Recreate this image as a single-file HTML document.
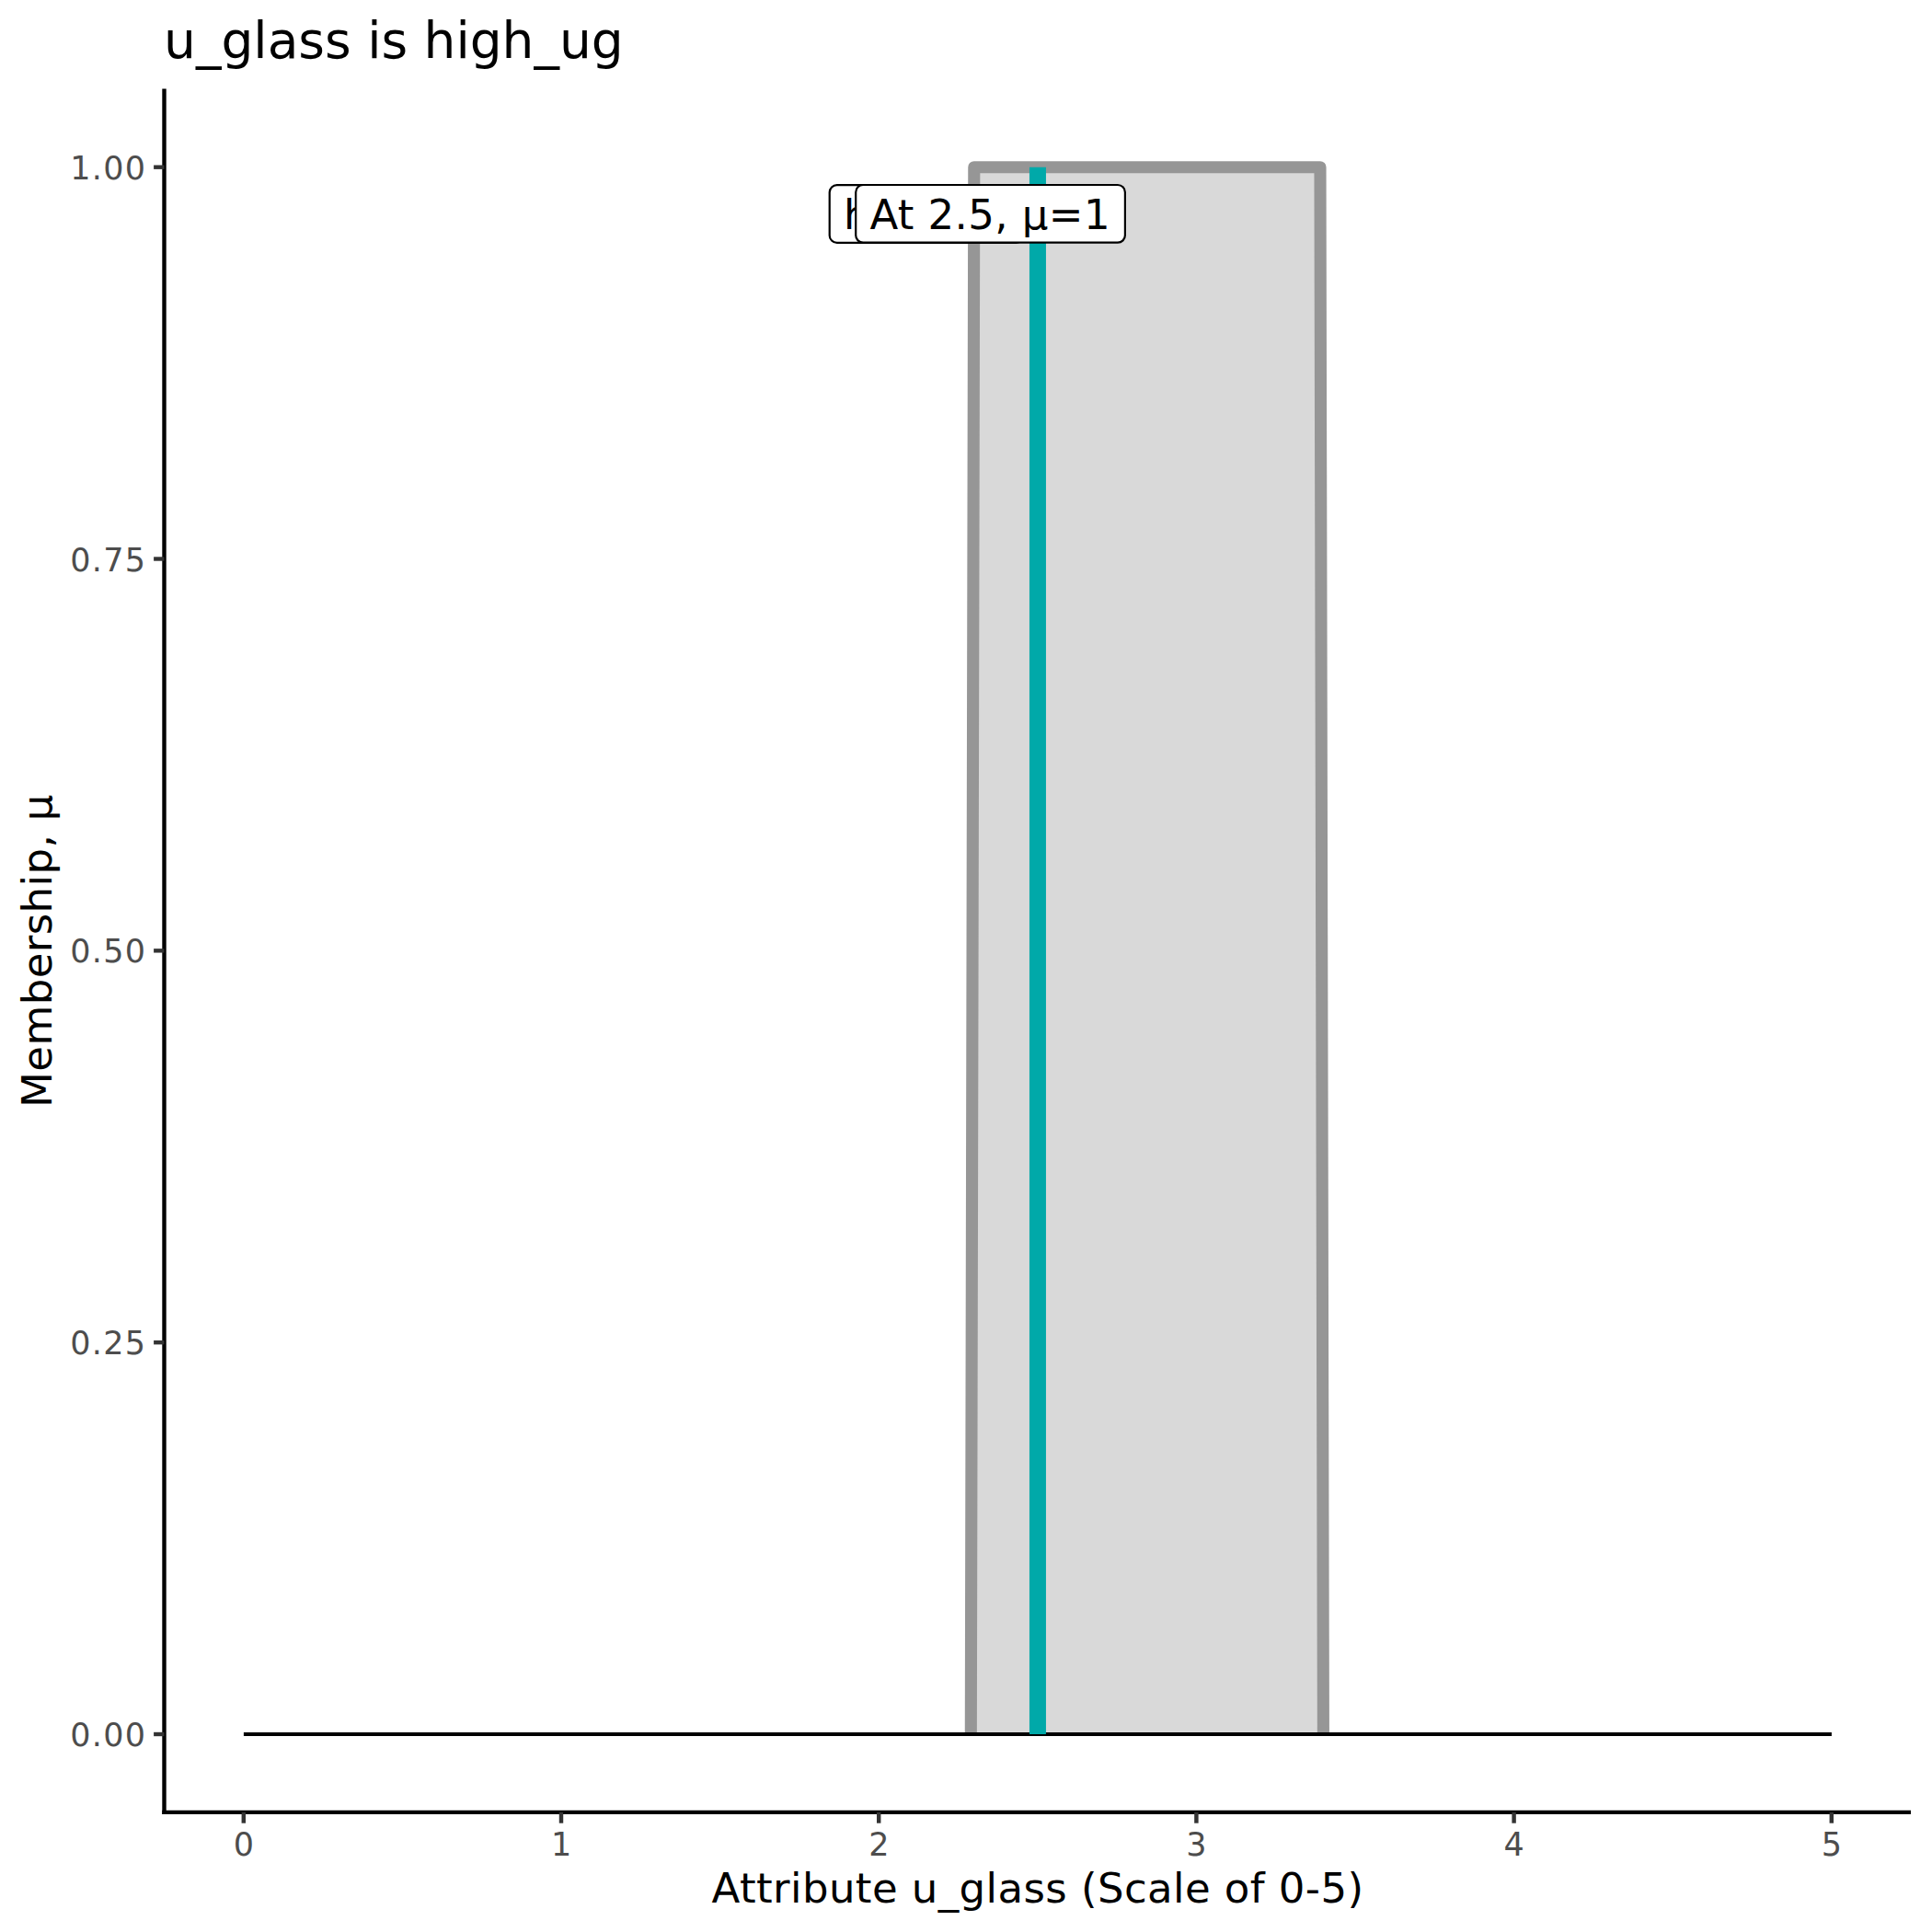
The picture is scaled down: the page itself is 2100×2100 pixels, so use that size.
<!DOCTYPE html>
<html>
<head>
<meta charset="utf-8">
<title>u_glass is high_ug</title>
<style>
html,body{margin:0;padding:0;background:#fff;}
body{width:2100px;height:2100px;overflow:hidden;}
svg{display:block;}
text{font-family:"DejaVu Sans","Liberation Sans",sans-serif;}
.tick{font-size:35px;fill:#4D4D4D;letter-spacing:1.3px;}
.axt{font-size:45px;fill:#000;letter-spacing:0.42px;}
.ttl{font-size:55px;fill:#000;}
.lbl{font-size:45px;fill:#000;}
</style>
</head>
<body>
<svg width="2100" height="2100" viewBox="0 0 2100 2100">
<rect x="0" y="0" width="2100" height="2100" fill="#ffffff"/>

<!-- title -->
<text class="ttl" x="178.1" y="62.7">u_glass is high_ug</text>

<!-- membership polygon -->
<path d="M1055.3 1885 L1058.8 181.7 L1435 181.7 L1438.4 1885" fill="#D9D9D9" stroke="#969696" stroke-width="13.1" stroke-linejoin="round" stroke-linecap="butt"/>

<!-- zero line -->
<line x1="264.9" y1="1884.95" x2="1990.9" y2="1884.95" stroke="#000" stroke-width="4.1"/>

<!-- crisp value line -->
<line x1="1127.95" y1="181.8" x2="1127.95" y2="1884.9" stroke="#00A9A9" stroke-width="18"/>

<!-- labels -->
<g>
<rect x="901.7" y="201.1" width="211" height="62.8" rx="8" ry="8" fill="#fff" stroke="#000" stroke-width="2.2"/>
<text class="lbl" x="916.9" y="248.9">high_ug</text>
<rect x="930.2" y="201.0" width="292.7" height="62.7" rx="8" ry="8" fill="#fff" stroke="#000" stroke-width="2.2"/>
<text class="lbl" x="1076.2" y="248.9" text-anchor="middle" letter-spacing="0.4">At 2.5, μ=1</text>
</g>

<!-- axes -->
<line x1="178.5" y1="96.4" x2="178.5" y2="1972.0" stroke="#000" stroke-width="4.4"/>
<line x1="176.3" y1="1969.9" x2="2077.0" y2="1969.9" stroke="#000" stroke-width="4.2"/>

<!-- y ticks -->
<g stroke="#333333" stroke-width="4.4">
<line x1="167.1" y1="181.70" x2="178.5" y2="181.70"/>
<line x1="167.1" y1="607.50" x2="178.5" y2="607.50"/>
<line x1="167.1" y1="1033.35" x2="178.5" y2="1033.35"/>
<line x1="167.1" y1="1459.20" x2="178.5" y2="1459.20"/>
<line x1="167.1" y1="1885.00" x2="178.5" y2="1885.00"/>
</g>
<g class="tick" text-anchor="end">
<text x="159.4" y="194.9">1.00</text>
<text x="159.4" y="620.9">0.75</text>
<text x="159.4" y="1045.9">0.50</text>
<text x="159.4" y="1471.9">0.25</text>
<text x="159.4" y="1897.9">0.00</text>
</g>

<!-- x ticks -->
<g stroke="#333333" stroke-width="4.45">
<line x1="264.8" y1="1969.9" x2="264.8" y2="1981.7"/>
<line x1="610.0" y1="1969.9" x2="610.0" y2="1981.7"/>
<line x1="955.2" y1="1969.9" x2="955.2" y2="1981.7"/>
<line x1="1300.4" y1="1969.9" x2="1300.4" y2="1981.7"/>
<line x1="1645.6" y1="1969.9" x2="1645.6" y2="1981.7"/>
<line x1="1990.8" y1="1969.9" x2="1990.8" y2="1981.7"/>
</g>
<g class="tick" text-anchor="middle" style="letter-spacing:0">
<text x="264.9" y="2016.7">0</text>
<text x="610.1" y="2016.7">1</text>
<text x="955.3" y="2016.7">2</text>
<text x="1300.5" y="2016.7">3</text>
<text x="1645.7" y="2016.7">4</text>
<text x="1990.9" y="2016.7">5</text>
</g>

<!-- axis titles -->
<text class="axt" x="1128.0" y="2067.8" text-anchor="middle">Attribute u_glass (Scale of 0-5)</text>
<text class="axt" transform="translate(55.9 1033.5) rotate(-90)" text-anchor="middle">Membership, μ</text>
</svg>
</body>
</html>
